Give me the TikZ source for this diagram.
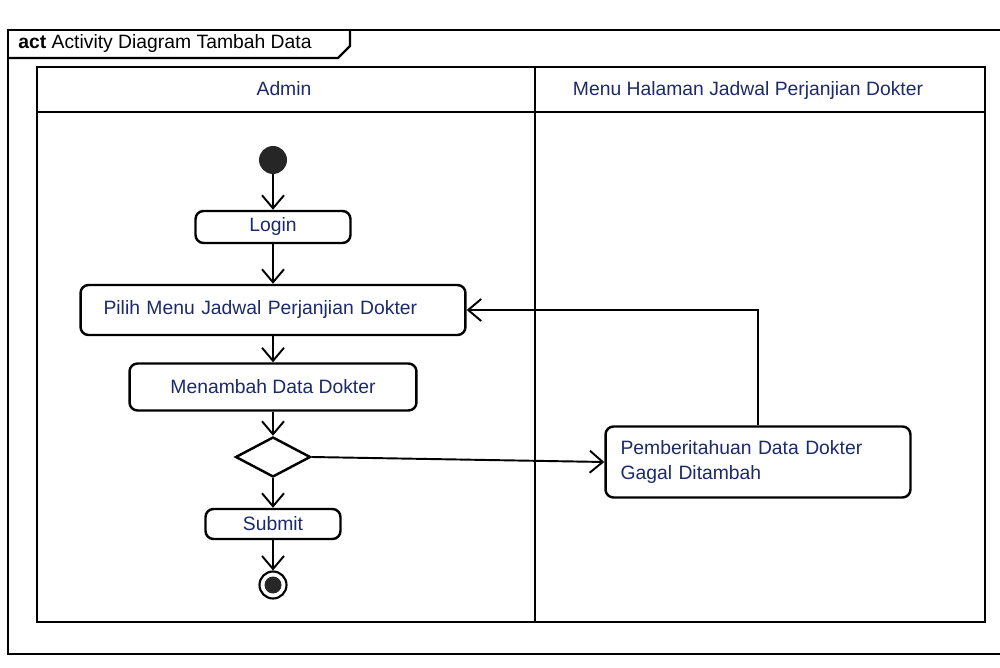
\documentclass[tikz,border=0pt]{standalone}
\usepackage{fontspec}
\setmainfont{Liberation Sans}
\usetikzlibrary{arrows.meta,shapes.geometric}
\definecolor{txt}{RGB}{28,42,105}
\begin{document}
\begin{tikzpicture}[x=0.02cm,y=-0.02cm,
  act/.style={draw,rounded corners=1.6mm,line width=1.4pt,fill=white,text=txt,
    font=\fontsize{11}{14}\selectfont,inner sep=0pt},
  flow/.style={line width=1.1pt,-{Straight Barb[length=2.6mm,width=4.4mm,line width=1.1pt]}},
  frm/.style={line width=1.4pt},
  hdr/.style={text=txt,font=\fontsize{11}{13}\selectfont,inner sep=0pt}]
\useasboundingbox (0,0) rectangle (1000,668);
% outer frame and title tab
\draw[frm] (1000,30) -- (8,30) -- (8,654) -- (1000,654);
\draw[frm] (8,58) -- (338,58) -- (350,46) -- (350,30);
\node[anchor=west,inner sep=0pt,font=\fontsize{11}{13}\selectfont] (title) at (18,44) {\textbf{act} Activity Diagram Tambah Data};
% swimlanes
\draw[frm] (37,67) rectangle (985,622);
\draw[frm] (37,112) -- (985,112);
\draw[frm] (535,67) -- (535,622);
\node[hdr] (laneA) at (284,89) {Admin};
\node[hdr] (laneB) at (748,91) {Menu Halaman Jadwal Perjanjian Dokter};
% nodes
\node[circle,fill=black!85,minimum size=5.6mm,inner sep=0pt] (start) at (273,160) {};
\node[act,minimum width=31mm,minimum height=6.4mm] (login) at (273,227) {Login};
\node[act,text width=67.8mm,inner xsep=4.6mm,minimum height=10mm,align=left] (pilih) at (273,310) {Pilih Menu Jadwal Perjanjian Dokter};
\node[act,minimum width=57.4mm,minimum height=9.4mm] (tambah) at (273,387) {Menambah Data Dokter};
\node[diamond,draw,line width=1.4pt,fill=white,minimum width=15mm,minimum height=8mm,inner sep=0pt] (dec) at (273,457) {};
\node[act,minimum width=27mm,minimum height=6mm] (submit) at (273,524) {Submit};
\node[circle,draw,line width=1.2pt,minimum size=5.4mm,inner sep=0pt,
  path picture={\fill[black!85] (path picture bounding box.center) circle (1.7mm);}] (end) at (273,585) {};
\node[act,text width=55mm,inner xsep=3mm,minimum height=14.2mm,align=left] (pemb) at (758,462) {Pemberitahuan Data Dokter\\Gagal Ditambah};
\coordinate (corner) at (758,310);
% connectors
\draw[flow] (start) -- (login);
\draw[flow] (login) -- (pilih);
\draw[flow] (pilih) -- (tambah);
\draw[flow] (tambah) -- (dec);
\draw[flow] (dec) -- (submit);
\draw[flow] (submit) -- (end);
\draw[flow] (dec.east) -- (pemb.west);
\draw[flow] (pemb.north) -- (corner) -- (pilih.east);
\end{tikzpicture}
\end{document}
